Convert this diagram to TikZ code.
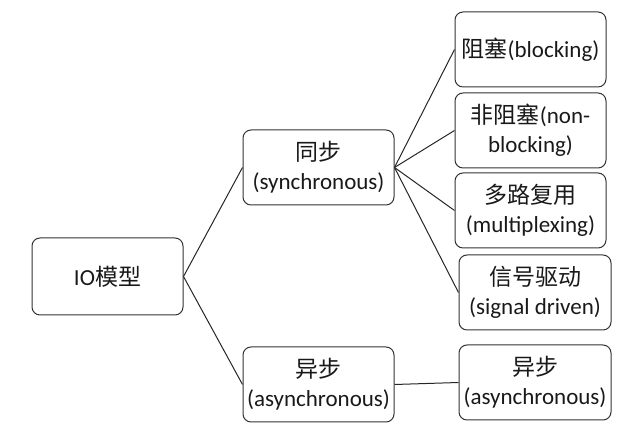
\documentclass[tikz,border=0pt]{standalone}
\usepackage{fontspec}
\setmainfont{Carlito}
\newfontfamily\cjk{Noto Sans CJK SC}
\begin{document}
\begin{tikzpicture}[x=1pt,y=1pt,
  box/.style={draw=black!80, line width=1pt, rounded corners=8pt, minimum width=151pt, minimum height=75pt, inner sep=0pt, align=center, font=\fontsize{23}{29}\selectfont, text=black!90},
  link/.style={draw=black!85, line width=1pt}]
\useasboundingbox (0,0) rectangle (632,435);
\node[box, minimum height=77pt] (io) at (107.5,158.5) {IO{\cjk 模型}};
\node[box] (sync) at (318.5,267.5) {{\cjk 同步}\\(synchronous)};
\node[box] (async) at (318.5,50.5) {{\cjk 异步}\\(asynchronous)};
\node[box] (blk) at (530.5,385.5) {{\cjk 阻塞}(blocking)};
\node[box] (nblk) at (530.5,304.5) {{\cjk 非阻塞}(non-\\blocking)};
\node[box] (mux) at (530.5,224.5) {{\cjk 多路复用}\\(multiplexing)};
\node[box, minimum width=152pt] (sig) at (535,142.5) {{\cjk 信号驱动}\\(signal driven)};
\node[box, minimum width=152pt] (async2) at (535,52.5) {{\cjk 异步}\\(asynchronous)};
\draw[link] (io.east) -- (sync.west);
\draw[link] (io.east) -- (async.west);
\draw[link] (sync.east) -- (blk.west);
\draw[link] (sync.east) -- (nblk.west);
\draw[link] (sync.east) -- (mux.west);
\draw[link] (sync.east) -- (sig.west);
\draw[link] (async.east) -- (async2.west);
\end{tikzpicture}
\end{document}
